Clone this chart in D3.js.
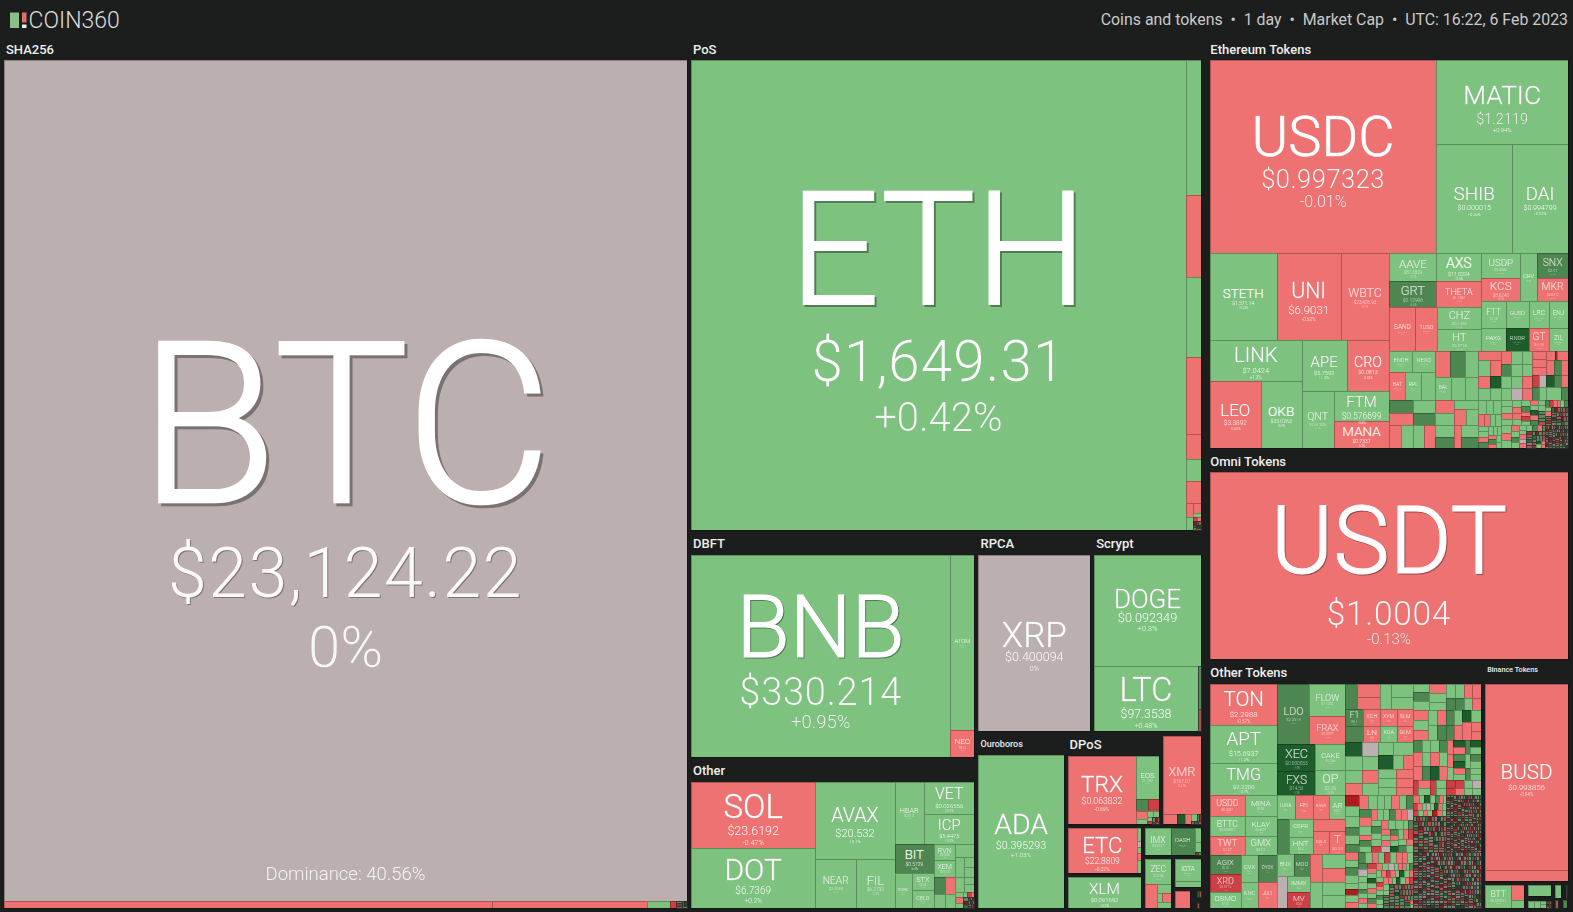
<!DOCTYPE html>
<html><head><meta charset="utf-8">
<script src="https://cdn.jsdelivr.net/npm/d3@7"></script>
<style>
html,body{margin:0;padding:0;background:#1c1e1e;overflow:hidden}
svg{display:block}
text{font-family:Roboto,sans-serif}
</style></head><body>
<script>
// ---- small constructors for the nested market-cap tables ----
const H=(...c)=>({dir:"h",children:c}), V=(...c)=>({dir:"v",children:c});
const g=a=>[null,1,a], r=a=>[null,-1,a], G=a=>[null,7,a], D=a=>[null,15,a],
      R=a=>[null,-7,a], X=a=>[null,-15,a], n=a=>[null,0,a], gap=a=>[null,null,a];
const codeChange={g:1,r:-1,G:7,D:15,R:-7,X:-15,n:0};
// many tiny coins: total cap, then tiers of [relative cap, change codes]
const M=(total,tiers)=>{
  const count=d3.sum(tiers,t=>t[0]*t[1].length);
  return {dir:"s",children:tiers.flatMap(t=>[...t[1]].map(ch=>[null,codeChange[ch],total*t[0]/count]))};
};

// ---- market caps (relative units), changes (%) and prices per sector ----
const sha256Cells=V(["BTC",0,574403,"$23,124.22"],
  H(r(3416),r(1085),g(161),R(42),M(77,[[1,"gRrGDg"]])));
const posCells=H(["ETH",0.42,232180,"$1,649.31"],
  V(g(2025),r(1230),g(1200),r(1155),r(375),g(330),r(330),
    H(r(98),V(r(80),g(32))),H(g(91),M(104,[[2,"Rr"],[1,"XGrRgXDr"]]))));
const dbftCells=H(["BNB",0.95,52448,"$330.214"],V(["ATOM",0.3,4200,"$12.94"],["NEO",-0.4,660,"$8.12"]));
const rpcaCells=["XRP",0,1,"$0.400094"];
const scryptCells=V(["DOGE",0.3,11822,"$0.092349"],H(["LTC",0.48,6728,"$97.3538"],V(g(130),r(65))));
const otherBottomRight=V(
  H(V(["RVN",0.9,357,"$0.0298"],["XEM",0.5,357,"$0.0418"]),V(g(266),H(g(180),V(g(100),g(100))))),
  H(V(H(G(187),r(170)),H(g(154),g(140))),
    V(H(g(135),V(g(70),g(80))),M(304,[[6,"grg"],[3,"gRrgXG"],[1,"RgXrDrgGRr"]]))));
const otherBottom=H(
  V(["BIT",6.5,1170,"$0.5729"],H(["RUNE",0.8,595,"$1.57"],V(["STX",1.2,374,"$0.29"],["CELO",0.6,396,"$0.78"]))),
  otherBottomRight);
const otherCells=H(
  V(["SOL",-0.47,8184,"$23.6192"],["DOT",0.2,7440,"$6.7369"]),
  V(["AVAX",0.1,6083,"$20.532"],H(["NEAR",0.4,1990,"$2.4028"],["FIL",0.3,1882,"$6.2732"])),
  V(H(["HBAR",0.5,1798,"$0.0712"],V(["VET",0.4,1600,"$0.026556"],["ICP",0.2,1500,"$5.4475"])),otherBottom));
const ouroborosCells=["ADA",1.03,1,"$0.395293"];
const dposCells=H(["TRX",-0.69,4692,"$0.063832"],
  V(["EOS",0.8,968,"$1.1182"],H(G(144),R(126)),H(V(r(88),g(60)),M(155,[[4,"gg"],[2,"gRg"],[1,"XrGr"]]))));
const moneroCells=V(["XMR",-0.27,2945,"$167.07"],H(r(147),D(84),r(63),M(105,[[3,"g"],[1,"gRrGr"]])));
const etcCells=H(["ETC",-0.32,3053,"$22.8809"],V(g(50),n(25),g(25),r(25),g(53)));
const xlmCells=["XLM",0.3,1,"$0.091692"];
const imxCells=H(["IMX",0.6,688,"$0.9247"],["DASH",6.1,648,"$62.37"],V(g(84),g(60),M(18,[[1,"Rg"]])));
const zecCells=V(["ZEC",0.7,637,"$42.58"],H(r(276),V(g(130),H(g(50),r(81)),g(87))));
const iotaCells=V(["IOTA",0.5,561,"$0.2347"],g(140));
const redCoinCells=r(1);
const tinyCells=V(H(gap(15),G(12),r(9)),gap(40),H(gap(15),r(10),gap(10)));

const ethTop=H(["USDC",-0.01,43811,"$0.997323"],
  V(["MATIC",0.94,11088,"$1.2119"],H(["SHIB",0.26,8284,"$0.000015"],["DAI",0.02,6104,"$0.994799"])));
const ethMajors=V(
  H(["STETH",0.22,5829,"$1,571.14"],["UNI",-0.62,5568,"$6.9031"],["WBTC",-0.1,4263,"$23,406.93"]),
  H(V(["LINK",1.3,3772,"$7.0424"],H(["LEO",-0.25,3417,"$3.3892"],["OKB",0.4,2747,"$33.0263"])),
    V(H(["APE",1.19,2295,"$5.7592"],["CRO",-0.32,2193,"$0.0813"]),
      H(["QNT",0.5,1824,"$124.395"],V(["FTM",0.8,1680,"$0.576699"],["MANA",-0.3,1512,"$0.7337"])))));
const ethMidA=V(
  H(V(["AAVE",0.7,1316,"$87.3329"],["GRT",5.6,1222,"$0.12996"]),V(["AXS",0.6,1260,"$11.0224"],["THETA",-0.4,1170,"$1.1284"])),
  H(["SAND",-0.5,1144,"$0.7524"],["TUSD",-0.1,968,"$0.9981"],V(["CHZ",0.3,968,"$0.1482"],["HT",0.2,968,"$5.5718"])));
const ethMidB=V(
  H(V(["USDP",0.05,956,"$0.9986"],["KCS",-0.6,916,"$8.6248"]),["CRV",0.4,816,"$1.01"],V(["SNX",6.2,760,"$2.47"],["MKR",-0.7,728,"$694.9"])),
  H(V(["FTT",0.3,662,"$1.58"],["PAXG",0.1,564,"$1,876"]),V(["GUSD",0.1,621,"$0.9994"],["RNDR",16,529,"$0.7921"]),
    V(["LRC",0.5,540,"$0.3218"],["GT",-0.8,460,"$4.18"]),V(["ENJ",0.4,513,"$0.4312"],["ZIL",0.6,437,"$0.0284"])));
const ethTailL=V(
  H(V(H(["ENCH",0.4,483,"$0.0211"],["NEXO",0.3,483,"$0.7641"]),H(["BAT",-0.5,448,"$0.2671"],["RPL",0.7,448,"$27.43"],g(392))),
    V(H(r(390),G(390),g(338)),H(["BAL",0.5,368,"$6.812"],g(322),g(299)))),
  V(H(V(G(312),r(288)),V(g(286),G(264)),V(r(247),g(228)),V(g(216),H(r(192),g(192)))),
    H(r(276),g(276),g(253),r(253),V(g(228),G(209)),r(161),V(g(204),G(187)))));
const ethTailRUpper=H(
  V(r(207),H(g(184),r(184)),H(r(138),D(138)),H(g(138),g(138))),
  V(r(130),G(120),g(120),g(120)),
  V(g(143),g(132),g(132),n(132)),
  V(g(130),g(130),r(120),r(120)),
  V(r(112),r(112),r(112),H(V(R(84),G(91)),V(n(84),g(91)))),
  V(H(r(76),R(22),r(99)),H(r(120),G(105),r(105)),H(D(96),G(84),r(84)),H(g(195),G(91))));
const ethTailRLower=H(
  M(1104,[[6,"ggg"],[4,"rrgg"],[3,"ggrGg"],[2,"ggrGrgg"]]),
  V(M(1675,[[5,"ggrgg"],[4,"rrggG"],[3,"rRgrgDrGgg"],[2,"gggrGRrrgGgr"],[1,"grRgGXrgrGgrDrggRrgrGgXrgGg"]]),
    H(M(1012,[[5,"grg"],[3,"rgGg"],[2,"ggrnrgGr"],[1,"gRrgGnrgXgrGgrRggrDgrr"]]),
      M(529,[[1,"RgXnrDgGRrnXggDrrGXnRggrDXnGrgRngXrDGgnRrXnggDRrGnXgRrnGgXDrnRggXnrRGgnD"]]))));
const ethTail=H(ethTailL,V(ethTailRUpper,ethTailRLower));
const ethereumCells=V(ethTop,H(ethMajors,V(H(ethMidA,ethMidB),ethTail)));
const omniCells=["USDT",-0.13,1,"$1.0004"];

const otTopLeft=H(
  V(["TON",-0.57,2788,"$2.2988"],["APT",1.2,2550,"$15.6937"],["TMG",0.7,2176,"$2.2206"]),
  V(H(["LDO",6,1920,"$2.2314"],V(["FLOW",0.9,1152,"$1.1202"],["FRAX",-0.2,1008,"$0.9977"])),
    H(V(["XEC",14,1026,"$0.000033"],["FXS",13,912,"$14.53"]),V(["CAKE",1.1,780,"$4.1286"],["OP",0.9,750,"$2.29"]))));
const otColA=V(
  H(V(["USDD",-0.3,735,"$0.9927"],["BTTC",0.4,700,"$0.000001"],["TWT",-0.7,665,"$1.27"]),
    V(["MINA",0.6,672,"$0.82"],["KLAY",0.8,640,"$0.2507"],["GMX",0.5,608,"$54.2"])),
  H(V(["AGIX",5.2,589,"$0.35"],["XRD",-7,558,"$0.0712"],["OSMO",0.4,496,"$1.05"]),
    V(["CVX",0.6,472,"$6.1"],["KNC",0.3,455,"$0.78"]),V(["DYDX",6,500,"$1.6"],["JULT",-0.6,481,"$1.6"])));
const otColB=V(
  H(["LUNA",0.4,432,"$1.9"],["FEI",-0.4,432,"$0.98"],["KAVA",-0.8,408,"$0.94"],["AR",0.5,384,"$12.1"]),
  H(G(420),V(["CSPR",0.4,432,"$0.04"],["HNT",0.3,408,"$2.2"]),V(r(396),H(["GALA",-0.5,391,"$0.04"],["T",-0.2,368,"$0.04"]))),
  H(V(H(["BNX",0.7,374,"$1.1"],["MOO",6,374,"$0.1"]),H(n(336),V(["IMMX",0.8,368,"$1.2"],["MV",-6,368,"$0.9"]))),
    V(r(336),g(312)),V(g(322),r(322),g(299),g(299))));
const otLeft=V(otTopLeft,H(otColA,otColB));
const otMidA=V(
  H(G(300),V(r(299),r(276)),g(275),V(g(286),g(264))),
  H(V(["F1",6,306,"$0.1"],G(288)),V(["XCH",-0.6,289,"$39"],["LN",-0.4,272,"$3"]),V(["XYM",-0.5,280,"$0.04"],["KDA",0.6,264,"$1"]),V(["SLM",-0.4,280,"$0.7"],["GLM",-0.3,264,"$0.2"])),
  H(V(D(238),g(238),g(221),r(204)),V(n(224),g(224),r(208),g(192)),
    V(H(g(195),g(260)),H(D(210),g(140),r(140)),H(g(162),r(153)),H(g(162),r(153)),H(g(144),r(136)))));
const otMidB=V(
  H(V(g(128),G(144),g(144)),V(r(153),g(153),g(136)),
    V(H(g(126),g(126),r(112),r(126)),H(G(108),G(108),g(96),r(108)))),
  H(V(r(150),g(150),r(150)),V(g(135),g(135)),V(r(135),G(135)),
    H(V(G(120),G(120)),V(g(120),r(120)),V(D(108),r(162)),V(g(120),r(90),r(90)))),
  H(V(H(G(102),g(102),g(102),G(102)),H(V(r(119),r(119)),V(g(119),G(119)),V(r(119),D(119)),V(g(119),r(119)))),
    V(r(84),r(78),g(78)),V(D(84),r(84),G(84),D(84),r(72),g(72)),V(G(70),g(70),G(60)),V(D(77),g(77),G(77),g(77),g(66),g(66))),
  H(R(75),V(r(96),g(84)),R(90),V(g(80),g(70)),V(R(72),R(63)),V(R(72),r(63)),V(g(64),g(56)),V(n(72),g(63))));
const otDustC=V(
  M(3876,[[9,"Xgg"],[7,"GgGrg"],[6,"ggrgGGrg"],[4,"rGgrggGrrngGggRrgg"],[3,"gGrgrnGrgDgrRgGrg"]]),
  M(3808,[[6,"rgGg"],[5,"gXgrGg"],[4,"rgRgrrgGngg"],[3,"GgrgRrgDgrgGrrgn"],[2,"grrgGgrRrgDgrgRrgGggrrgDgrRgg"],[1,"rggrgGgrrgnGgrgRrgrgDgggrGrgrgRgggrggrGgrg"]]));
const otDustD1=H(
  M(1881,[[3,"rgDg"],[2,"GrgRrgngDrgRgrgXrg"],[1,"gRrgGXrnDgrRgGrXgrDrgRgGrgrnDgXRrgGrgRDrgGrXgRrnDgrGgRrXgDgrgnrRgGgrgrDggrRrXgrG"]]),
  V(M(980,[[1,"gXrgDgRrggXrgDRgnrXggDrRgXrggDRrXgnGrDgXRrGgXDrggRXrDgRnGXrgDRrGgXDrRgGrXDgRnrgGXgDRrggrRgXnrgDgrRgXgrGrgnDgrgXrgRgD"]]),
    M(1015,[[1,"DXgRrnXrGgRnXrDgnRXgnGXrRDnggDRnrGnRgXDnrXRngGXgRnrXGnDRgnGrXnRnGDgnRrDnXnRDgnXrRnXnGgDRXnrgRnXDnrgGnRXnrnDgRXnrGnDXgnRrnGXnRgnDXnrGRnXgnrDRn"]])));
const otDustD2=M(3808,[[1,"XnGgrDRnrnXgGnRrDgnXnrGRgnDnXrgnGRnrXDgnnRGrXgnDrnRnGgXnrDRgnnXGrRnDgnrXnGRgDnrnXRgGnrnDXgRnrGnXDngrRnXGgnDrRnnXgGrnDRnXgrnGRnDgXnrnRGgDnXrnRgnGDXnrgRnnGXDrnRgnXGnDrgRnXnGrDgnRXnrGnDgRnXrnGgDRnnXrGRgnDnXrRgnGnDXrgRnGnXDrnRggnXGDnrRnXgGnDrRnXgnGrDRnnXgGrnDRgXnrGnRDgnXrRGngDnXrRgnGDnXrgRnGnDXrRgnnGDXrgnRGnDXgrRnGnDXrgRnGDnXrRgnGnDXrRgnnGDXgrRnGnDXrgnR"]]);
const otherTokenCells=H(otLeft,V(H(otMidA,otMidB),H(otDustC,V(otDustD1,otDustD2))));
const binanceMainCells=V(["BUSD",-0.04,15438,"$0.993856"],r(913));
const bttCells=H(V(["BTT",0.5,580,"$0.000001"]),V(r(190),g(100)));
const binanceMidCells=V(g(198),gap(88),H(g(35),g(35),M(64,[[3,"gg"],[1,"GrXrG"]])));
const binanceEndCells=V(H(g(150),gap(120),g(30),gap(20)),gap(50),H(r(40),gap(70),G(60),gap(20)));

// ---- sector market caps and the way the sectors are arranged ----
const sectorCaps={SHA256:595670,PoS:253422,DBFT:65293,Other:43194,RPCA:23216,Scrypt:22211,Ouroboros:15753,
  DPoS:8883,Monero:3927,Classic:3759,Stellar:2713,Imx:1845,Zcash:1575,Iota:929,RedCoin:389,Tiny:231,
  Ethereum:149556,Omni:76593,OtherTokens:68724,Binance:19314,BinanceBtt:1161,BinanceMid:729,BinanceEnd:459};
const sectorCells={SHA256:sha256Cells,PoS:posCells,DBFT:dbftCells,Other:otherCells,RPCA:rpcaCells,Scrypt:scryptCells,
  Ouroboros:ouroborosCells,DPoS:dposCells,Monero:moneroCells,Classic:etcCells,Stellar:xlmCells,Imx:imxCells,Zcash:zecCells,
  Iota:iotaCells,RedCoin:redCoinCells,Tiny:tinyCells,Ethereum:ethereumCells,Omni:omniCells,OtherTokens:otherTokenCells,
  Binance:binanceMainCells,BinanceBtt:bttCells,BinanceMid:binanceMidCells,BinanceEnd:binanceEndCells};
const sectorTitles={SHA256:"SHA256",PoS:"PoS",DBFT:"DBFT",Other:"Other",RPCA:"RPCA",Scrypt:"Scrypt",Ouroboros:"Ouroboros",
  DPoS:"DPoS",Ethereum:"Ethereum Tokens",Omni:"Omni Tokens",OtherTokens:"Other Tokens",Binance:"Binance Tokens"};
const S=k=>[k,0,sectorCaps[k]];
const rightColumn=V(S("Ethereum"),S("Omni"),H(S("OtherTokens"),
  V(S("Binance"),H(S("BinanceBtt"),S("BinanceMid"),S("BinanceEnd")))));
const midSmallC=V(S("Iota"),H(S("RedCoin"),S("Tiny")));
const midSmallB=H(S("Zcash"),midSmallC);
const midSmallLower=H(V(S("Classic"),S("Stellar")),V(S("Imx"),midSmallB));
const midRest=V(H(S("DPoS"),S("Monero")),midSmallLower);
const midRight=V(H(S("RPCA"),S("Scrypt")),H(S("Ouroboros"),midRest));
const midColumn=V(S("PoS"),H(V(S("DBFT"),S("Other")),midRight));
const columns={dir:"h",id:"columns",children:[midColumn,rightColumn]};
const pageLayout=H(S("SHA256"),columns);

const headerLeft="COIN360";
const headerRight="Coins and tokens \u00a0\u2022\u00a0 1 day \u00a0\u2022\u00a0 Market Cap \u00a0\u2022\u00a0 UTC: 16:22, 6 Feb 2023";
const dominanceLabel="Dominance: 40.56%";

// ---- styling ----
const W=1573,Ht=912;
const frame={x0:2,y0:38,x1:1570,y1:910}, inset=2, columnGap=5;
const sectorHead={SHA256:20,PoS:20,DBFT:21,Other:20.5,RPCA:21,Scrypt:21,Ouroboros:20,DPoS:21,Monero:1.5,
  Ethereum:20,Omni:20,OtherTokens:21,Binance:21};
const titleStyle={Ouroboros:[9,12.5],Binance:[7.2,9]};
const titleDx={Ethereum:0.5,Omni:0.5,OtherTokens:0.5};
const color=d3.scaleThreshold().domain([-10,-4,-1e-9,1e-9,4,10])
  .range(["#b01b1f","#cb4044","#ef7272","#bbb0af","#7ec280","#4d8650","#1e5d2b"]);
// [symbol, price, change size, then three baselines from the cell centre]
const labelFit={BTC:[225,70,58,21,116,186],ETH:[158,56.5,40,9,86,136],BNB:[87,38,18.5,1,49,72],USDC:[56,25.5,16,-1,31,50],
  USDT:[95,33.5,15,7,59,78],XRP:[35,12.5,7.5,4,18,28],DOGE:[26,12.7,7.5,-2,12,21]};
const priceFit={MATIC:14.5,AVAX:11,UNI:11.5,FTM:8.5,SOL:12.5,DOT:10,LINK:7.5};
const fontSym="'Noto Sans',Roboto,sans-serif", fontNum="Inter,Roboto,sans-serif";

const isLeaf=d=>Array.isArray(d);
const tile=(node,x0,y0,x1,y1)=>{
  const dir=node.data.dir;
  (dir==="h"?d3.treemapDice:dir==="v"?d3.treemapSlice:d3.treemapSquarify)(node,x0,y0,x1,y1);
};
const treeOf=d=>d3.hierarchy(d,c=>isLeaf(c)?null:c.children).sum(c=>isLeaf(c)?c[2]:0);
const shadow=(sel,fs)=>{ if(fs>=14) sel.style("filter",`drop-shadow(${fs*.016}px ${fs*.016}px 0 rgba(0,0,0,.35))`); return sel; };

const svg=d3.select("body").append("svg").attr("width",W).attr("height",Ht);
svg.append("rect").attr("width",W).attr("height",Ht).attr("fill","#1c1e1e");

// page header
const head=svg.append("g");
head.append("rect").attr("x",10).attr("y",12.5).attr("width",9).attr("height",15.5).attr("fill","#86c287");
head.append("rect").attr("x",22).attr("y",12.5).attr("width",4.5).attr("height",10).attr("fill","#e86b6b");
head.append("rect").attr("x",22).attr("y",24.5).attr("width",4.5).attr("height",3.5).attr("fill","#eee");
head.append("text").attr("x",28.5).attr("y",28).attr("font-size",23).attr("font-weight",300)
  .attr("fill","#dcdcdc").text(headerLeft);
head.append("text").attr("x",1568).attr("y",24.5).attr("text-anchor","end").attr("font-size",15.9)
  .attr("fill","#c9c9c9").text(headerRight);

// first pass: sectors
const outer=d3.treemap().tile(tile).size([frame.x1-frame.x0,frame.y1-frame.y0])
  .paddingInner(nd=>nd.data.id==="columns"?columnGap:0)(treeOf(pageLayout));

const cellLayer=svg.append("g").attr("shape-rendering","crispEdges");
const titleLayer=svg.append("g");
const labelLayer=svg.append("g");

outer.leaves().forEach(sec=>{
  const key=sec.data[0];
  const x0=sec.x0+frame.x0+inset,x1=sec.x1+frame.x0-inset,
        y0=sec.y0+frame.y0+inset,y1=sec.y1+frame.y0-inset,top=sectorHead[key]||0;
  if(sectorTitles[key]){
    const ts=titleStyle[key]||[13,14];
    titleLayer.append("text").attr("x",x0+(titleDx[key]??2)).attr("y",y0+ts[1]).attr("font-size",ts[0])
      .attr("font-weight",500).attr("fill","#eee").text(sectorTitles[key]);
  }
  const cells=d3.treemap().tile(tile).size([x1-x0,y1-y0-top])(treeOf(sectorCells[key]));
  cells.leaves().forEach(c=>{
    const [sym,change,,price]=c.data;
    if(change===null) return;
    const a=Math.round(c.x0+x0),b=Math.round(c.x1+x0),t=Math.round(c.y0+y0+top),u=Math.round(c.y1+y0+top);
    const tiny=Math.min(c.x1-c.x0,c.y1-c.y0)<3.6;
    cellLayer.append("rect").attr("x",a).attr("y",t).attr("width",Math.max(b-a,1)).attr("height",Math.max(u-t,1))
      .attr("fill",color(change)).attr("fill-opacity",tiny?0.65:1)
      .attr("stroke",tiny?"rgba(45,45,45,0.8)":"rgba(0,0,0,0.27)").attr("stroke-width",1);
    if(!sym) return;
    const w=c.x1-c.x0,h=c.y1-c.y0,cx=x0+(c.x0+c.x1)/2,cy=y0+top+(c.y0+c.y1)/2;
    let sf=Math.min(w/sym.length*1.0,h*0.5),pf=priceFit[sym]||sf*0.38,cf=sf*0.22;
    let d0=sf*0.08,d1=d0+pf*1.4,d2=d1+cf*1.35;
    if(labelFit[sym]) [sf,pf,cf,d0,d1,d2]=labelFit[sym];
    const lg=labelLayer.append("g").attr("text-anchor","middle").attr("fill","#fff");
    const dim=sf<13?0.72:1;
    shadow(lg.append("text").attr("x",cx).attr("y",cy+d0).attr("font-family",fontSym).attr("font-weight",300)
      .attr("stroke","#fff").attr("stroke-width",sf*.012)
      .attr("font-size",sf).attr("opacity",dim).text(sym),sf);
    shadow(lg.append("text").attr("x",cx).attr("y",cy+d1).attr("font-family",fontNum).attr("font-weight",300)
      .attr("letter-spacing",pf>=20?pf*.02:0)
      .attr("font-size",pf).attr("opacity",.95*dim).text(price),pf);
    shadow(lg.append("text").attr("x",cx).attr("y",cy+d2).attr("font-family",fontNum).attr("font-weight",300)
      .attr("font-size",cf).attr("opacity",.9*dim).text(change===0?"0%":(change>0?"+":"")+change+"%"),cf);
    if(sym==="BTC") lg.append("text").attr("x",cx).attr("y",880).attr("font-family",fontNum).attr("font-weight",300)
      .attr("font-size",18.5).attr("opacity",.85).text(dominanceLabel);
  });
});
</script>
</body></html>
